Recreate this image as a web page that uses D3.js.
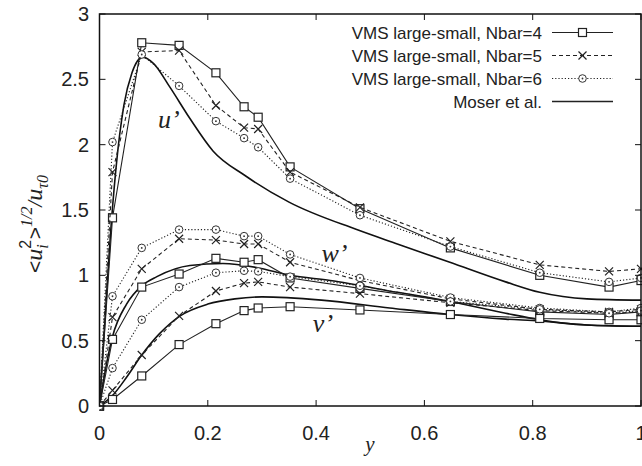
<!DOCTYPE html>
<meta charset="utf-8">
<head>
  <style>
    body { margin: 0; background: white; }
  </style>
  <script src="https://cdn.jsdelivr.net/npm/d3@7"></script>
</head>
<body>
<script>
  // wall distance of the VMS sample points
  const ys = [0, 0.024, 0.078, 0.147, 0.215, 0.267, 0.293, 0.352, 0.481, 0.648, 0.813, 0.941, 1.0];

  // VMS large-small, u' / w' / v' for Nbar = 4, 5, 6
  const u4 = [0, 1.44, 2.78, 2.76, 2.55, 2.29, 2.21, 1.83, 1.51, 1.21, 1.00, 0.91, 0.96];
  const u5 = [0, 1.79, 2.71, 2.72, 2.30, 2.13, 2.12, 1.79, 1.52, 1.26, 1.08, 1.03, 1.05];
  const u6 = [0, 2.02, 2.69, 2.45, 2.18, 2.05, 1.98, 1.74, 1.46, 1.22, 1.02, 0.95, 0.98];
  const w4 = [0, 0.51, 0.91, 1.01, 1.13, 1.10, 1.12, 0.98, 0.90, 0.80, 0.72, 0.70, 0.72];
  const w5 = [0, 0.68, 1.05, 1.28, 1.27, 1.24, 1.24, 1.10, 0.96, 0.82, 0.74, 0.72, 0.74];
  const w6 = [0, 0.84, 1.21, 1.35, 1.35, 1.30, 1.30, 1.16, 0.98, 0.83, 0.75, 0.72, 0.75];
  const v4 = [0, 0.05, 0.23, 0.47, 0.63, 0.73, 0.75, 0.76, 0.735, 0.70, 0.67, 0.66, 0.66];
  const v5 = [0, 0.12, 0.39, 0.69, 0.88, 0.94, 0.95, 0.91, 0.86, 0.79, 0.73, 0.71, 0.72];
  const v6 = [0, 0.29, 0.66, 0.91, 1.02, 1.035, 1.03, 0.99, 0.92, 0.80, 0.74, 0.71, 0.73];

  // Moser et al. DNS curves
  const moserUy = [0, 0.01, 0.02, 0.03, 0.045, 0.06, 0.08, 0.1, 0.13, 0.167, 0.21, 0.27, 0.35, 0.475, 0.55, 0.647, 0.75, 0.813, 0.9, 1.0];
  const moserU  = [0, 0.65, 1.3, 1.8, 2.3, 2.55, 2.67, 2.62, 2.44, 2.2, 1.95, 1.76, 1.56, 1.35, 1.24, 1.1, 0.95, 0.87, 0.82, 0.81];
  const moserWy = [0, 0.012, 0.024, 0.05, 0.078, 0.106, 0.167, 0.228, 0.29, 0.352, 0.426, 0.55, 0.647, 0.75, 0.813, 0.9, 1.0];
  const moserW  = [0, 0.3, 0.53, 0.78, 0.92, 0.99, 1.075, 1.09, 1.06, 1.0, 0.96, 0.87, 0.8, 0.71, 0.66, 0.62, 0.61];
  const moserVy = [0, 0.024, 0.05, 0.078, 0.11, 0.149, 0.2, 0.25, 0.3, 0.41, 0.536, 0.647, 0.75, 0.813, 0.9, 1.0];
  const moserV  = [0, 0.08, 0.22, 0.39, 0.55, 0.69, 0.78, 0.82, 0.835, 0.81, 0.75, 0.7, 0.665, 0.65, 0.62, 0.61];

  const xTicks = [0, 0.2, 0.4, 0.6, 0.8, 1];
  const yTicks = [0, 0.5, 1, 1.5, 2, 2.5, 3];
  const legendNames = ["VMS large-small, Nbar=4", "VMS large-small, Nbar=5", "VMS large-small, Nbar=6", "Moser et al."];

  const W = 642, H = 466;
  const L = 99.5, R = 641, T = 14, B = 406;
  const sans = "'Liberation Sans', Arial, sans-serif";
  const serif = "'Liberation Serif', 'DejaVu Serif', serif";

  const svg = d3.create("svg:svg")
    .attr("width", W)
    .attr("height", H)
    .attr("font-family", sans)
    .style("background-color", "white")
    ;
  d3.select("body").append(() => svg.node());

  const x = d3.scaleLinear().domain([0, 1]).range([L, R]);
  const y = d3.scaleLinear().domain([0, 3]).range([B, T]);

  const plot = svg.append("g");
  plot.append("clipPath").attr("id", "clip")
    .append("rect").attr("x", L).attr("y", T - 10).attr("width", R - L + 1).attr("height", B - T + 20);

  const line = d3.line().x(d => x(d[0])).y(d => y(d[1]));
  const smooth = d3.line().x(d => x(d[0])).y(d => y(d[1])).curve(d3.curveMonotoneX);

  const styles = [
    {dash: null, marker: "square", width: 1.1},
    {dash: "4,3", marker: "cross", width: 1.1},
    {dash: "1.2,2", marker: "circle", width: 1.1}
  ];

  function marker(g, kind, cx, cy) {
    if (kind === "square") {
      g.append("rect").attr("x", cx - 4).attr("y", cy - 4).attr("width", 8).attr("height", 8)
        .attr("fill", "white").attr("stroke", "#222").attr("stroke-width", 1.2);
    } else if (kind === "cross") {
      g.append("path").attr("d", `M${cx-4},${cy-4}L${cx+4},${cy+4}M${cx-4},${cy+4}L${cx+4},${cy-4}`)
        .attr("stroke", "#222").attr("stroke-width", 1.2);
    } else {
      g.append("circle").attr("cx", cx).attr("cy", cy).attr("r", 3.8)
        .attr("fill", "white").attr("stroke", "#333").attr("stroke-width", 1);
      g.append("circle").attr("cx", cx).attr("cy", cy).attr("r", 0.9).attr("fill", "#333");
    }
  }

  const dataG = plot.append("g").attr("clip-path", "url(#clip)");

  // Moser curves
  [[moserUy, moserU], [moserWy, moserW], [moserVy, moserV]].forEach(function(c) {
    dataG.append("path")
      .attr("d", smooth(d3.zip(c[0], c[1])))
      .attr("fill", "none").attr("stroke", "#111").attr("stroke-width", 1.6);
  });

  // VMS series
  const groups = [[u4, u5, u6], [w4, w5, w6], [v4, v5, v6]];
  groups.forEach(function(grp) {
    grp.forEach(function(vals, i) {
      const st = styles[i];
      dataG.append("path")
        .attr("d", line(d3.zip(ys, vals)))
        .attr("fill", "none").attr("stroke", "#222").attr("stroke-width", st.width)
        .attr("stroke-dasharray", st.dash);
      vals.forEach(function(v, j) {
        marker(dataG, st.marker, x(ys[j]), y(v));
      });
    });
  });

  // frame and ticks
  plot.append("rect").attr("x", L).attr("y", T).attr("width", R - L).attr("height", B - T)
    .attr("fill", "none").attr("stroke", "#111").attr("stroke-width", 1.5);

  xTicks.forEach(function(t) {
    plot.append("line").attr("x1", x(t)).attr("x2", x(t)).attr("y1", B).attr("y2", B - 6).attr("stroke", "#111");
    plot.append("line").attr("x1", x(t)).attr("x2", x(t)).attr("y1", T).attr("y2", T + 6).attr("stroke", "#111");
    plot.append("text").attr("x", x(t)).attr("y", 440).attr("text-anchor", "middle")
      .attr("font-size", 20).attr("fill", "#222").text(d3.format("")(t));
  });
  yTicks.forEach(function(t) {
    plot.append("line").attr("x1", L).attr("x2", L + 6).attr("y1", y(t)).attr("y2", y(t)).attr("stroke", "#111");
    plot.append("line").attr("x1", R).attr("x2", R - 6).attr("y1", y(t)).attr("y2", y(t)).attr("stroke", "#111");
    plot.append("text").attr("x", 89).attr("y", y(t) + 7).attr("text-anchor", "end")
      .attr("font-size", 20).attr("fill", "#222").text(d3.format("")(t));
  });

  // curve labels
  [["u’", 0.108, 2.13], ["w’", 0.41, 1.1], ["v’", 0.394, 0.57]].forEach(function(l) {
    plot.append("text").attr("x", x(l[1])).attr("y", y(l[2]))
      .attr("font-family", serif).attr("font-style", "italic").attr("font-size", 26)
      .attr("fill", "#222").text(l[0]);
  });

  // axis titles
  svg.append("text").attr("x", 370).attr("y", 451).attr("text-anchor", "middle")
    .attr("font-family", serif).attr("font-style", "italic").attr("font-size", 21).attr("fill", "#222").text("y");

  const yl = svg.append("text")
    .attr("transform", "translate(42,224) rotate(-90)")
    .attr("text-anchor", "middle").attr("font-size", 21).attr("fill", "#222");
  yl.append("tspan").text("<");
  yl.append("tspan").attr("font-family", serif).attr("font-style", "italic").attr("font-size", 24).text("u");
  yl.append("tspan").attr("font-size", 16).attr("dy", -11).text("2");
  yl.append("tspan").attr("font-family", serif).attr("font-style", "italic").attr("font-size", 16)
    .attr("dx", -9).attr("dy", 17).text("i");
  yl.append("tspan").attr("dx", 5).attr("dy", -6).text(">");
  yl.append("tspan").attr("font-family", serif).attr("font-style", "italic").attr("font-size", 16)
    .attr("dy", -10).text("1/2");
  yl.append("tspan").attr("font-family", serif).attr("font-style", "italic").attr("dy", 10).text("/");
  yl.append("tspan").attr("font-family", serif).attr("font-style", "italic").attr("font-size", 24).text("u");
  yl.append("tspan").attr("font-family", serif).attr("font-style", "italic").attr("font-size", 16)
    .attr("dy", 6).text("τ0");

  // legend
  const legRows = [32.5, 55.5, 78.5, 101.5];
  legendNames.forEach(function(name, i) {
    const g = svg.append("g");
    g.append("text").attr("x", 542).attr("y", legRows[i] + 6).attr("text-anchor", "end")
      .attr("font-size", 17).attr("fill", "#222").text(name);
    g.append("line").attr("x1", 552).attr("x2", 613).attr("y1", legRows[i]).attr("y2", legRows[i])
      .attr("stroke", "#222").attr("stroke-width", i === 3 ? 1.6 : 1.1)
      .attr("stroke-dasharray", i < 3 ? styles[i].dash : null);
    if (i < 3) marker(g, styles[i].marker, 582.5, legRows[i]);
  });
</script>
</body>
</html>
